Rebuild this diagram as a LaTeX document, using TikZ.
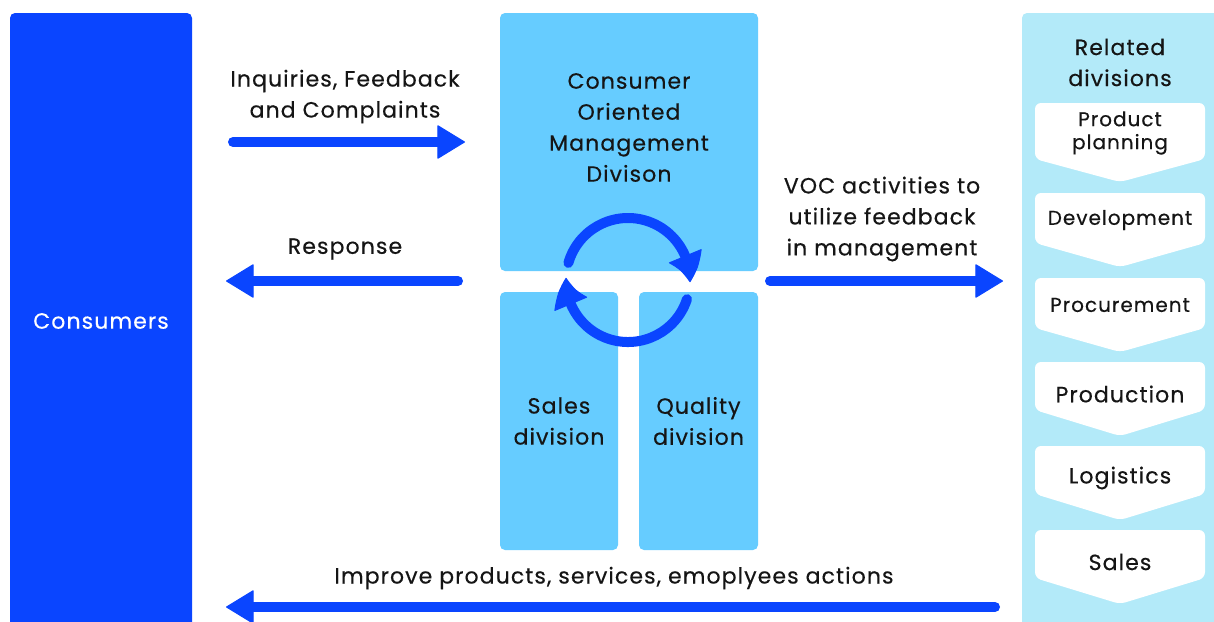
\documentclass[tikz,border=0pt]{standalone}
\usepackage{fontspec}
\setmainfont{Poppins}[FakeBold=0.4, LetterSpace=5]
\usetikzlibrary{positioning,arrows.meta,bending}
\definecolor{deepblue}{HTML}{0A45FF}
\definecolor{skyblue}{HTML}{66CCFF}
\definecolor{paleblue}{HTML}{B3EAF9}
\definecolor{inkblack}{HTML}{151515}
\tikzset{
  panel/.style={fill=#1, draw=none, rounded corners=5pt, inner sep=0pt},
  lbl/.style={text=inkblack, align=center, font=\fontsize{22}{31}\selectfont, inner sep=0pt},
  chevlbl/.style={lbl, font=\fontsize{20}{23}\selectfont},
  flow/.style={draw=deepblue, line width=10pt, line cap=round,
    -{Triangle[length=28pt,width=34pt,line width=1pt,round]}},
  cyc/.style={draw=deepblue, line width=10pt, line cap=round,
    -{Triangle[length=28pt,width=36pt,line width=1pt,round,bend]}},
  chev/.style={fill=white, draw=none, rounded corners=6pt},
}

\begin{document}
\begin{tikzpicture}[x=1pt,y=1pt]
\clip (0,0) rectangle (1214,-621);
\fill[white] (0,0) rectangle (1214,-621);

% side panels
\node[panel=deepblue, lbl, text=white, minimum width=182pt, minimum height=616pt] (consumers) at (101,-321) {Consumers};
\node[panel=paleblue, minimum width=200pt, minimum height=616pt] (related) at (1122,-321) {};
\node[lbl] (reltitle) at (1120,-62.5) {Related\\divisions};

% middle blocks
\node[panel=skyblue, minimum width=258pt, minimum height=258pt] (cod) at (629,-142) {};
\node[lbl] (codtxt) at (629,-127.5) {Consumer\\Oriented\\Management\\Divison};
\node[panel=skyblue, lbl, minimum width=118pt, minimum height=258pt] (sales) at (559,-421) {Sales\\division};
\node[panel=skyblue, lbl, minimum width=119pt, minimum height=258pt] (quality) at (698.5,-421) {Quality\\division};

% related divisions
\fill[chev] (1035,-103) -- (1205,-103) -- (1205,-159) -- (1120,-182) -- (1035,-159) -- cycle;
\node[chevlbl] (plan) at (1120,-133) {Product\\planning};
\foreach \y/\nm/\txt in {193/devel/Development, 278/procure/Procurement}{
  \fill[chev] (1035,-\y) -- (1205,-\y) -- (1205,-\y-50) -- (1120,-\y-74) -- (1035,-\y-50) -- cycle;
  \node[chevlbl] (\nm) at (1120,-\y-27) {\txt};
}
\foreach \y/\nm/\txt in {362/produce/Production, 446/logist/Logistics, 530/salesdiv/Sales}{
  \fill[chev] (1035,-\y) -- (1205,-\y) -- (1205,-\y-48) -- (1120,-\y-74) -- (1035,-\y-48) -- cycle;
  \node[lbl] (\nm) at (1120,-\y-32) {\txt};
}

% flows
\node[lbl] (inqtxt) at (345,-96.5) {Inquiries, Feedback\\and Complaints};
\node[lbl] (resptxt) at (345,-249) {Response};
\node[lbl] (voctxt) at (882,-219) {VOC activities to\\utilize feedback\\in management};
\node[lbl] (imptxt) at (614,-578) {Improve products, services, emoplyees actions};

\coordinate (inq-a) at (233,-142);
\coordinate (inq-b) at (465,-142);
\coordinate (resp-a) at (458,-281);
\coordinate (resp-b) at (226,-281);
\coordinate (voc-a) at (770,-281);
\coordinate (voc-b) at (1003,-281);
\coordinate (imp-a) at (995,-607);
\coordinate (imp-b) at (226,-607);
\draw[flow] (inq-a) -- (inq-b);
\draw[flow] (resp-a) -- (resp-b);
\draw[flow] (voc-a) -- (voc-b);
\draw[flow] (imp-a) -- (imp-b);

% cycle
\coordinate (cyc-c) at (628,-280);
\draw[cyc] ([shift={(164:62pt)}]cyc-c) arc[start angle=164, end angle=-2, radius=62pt];
\draw[cyc] ([shift={(-18:62pt)}]cyc-c) arc[start angle=-18, end angle=-182, radius=62pt];
\end{tikzpicture}
\end{document}
